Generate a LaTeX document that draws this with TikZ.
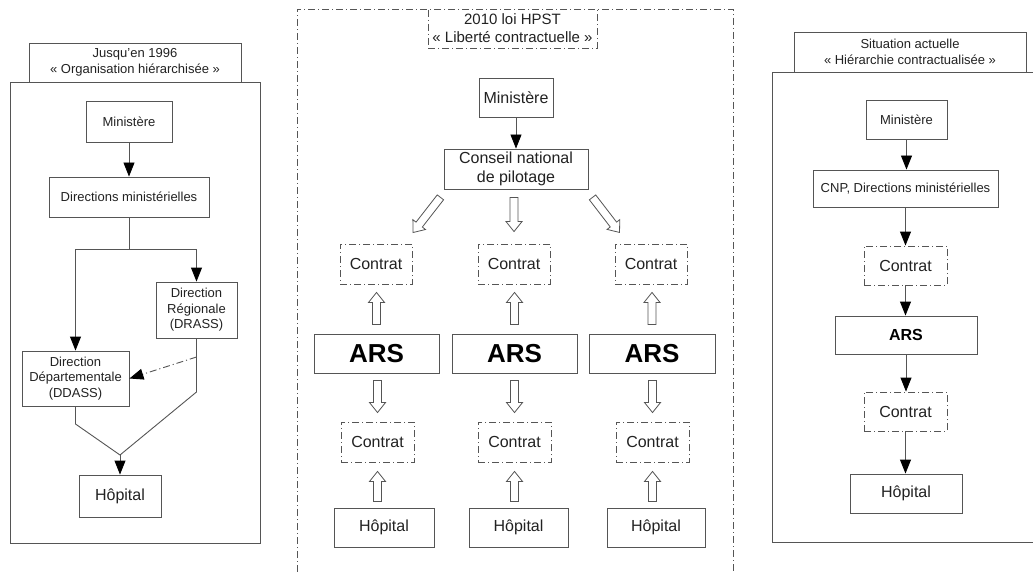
\documentclass[tikz,border=0pt]{standalone}
\usepackage{fontspec}
\setmainfont{Liberation Sans}
\usetikzlibrary{arrows.meta,calc}
\definecolor{bline}{HTML}{555555}
\definecolor{txt}{HTML}{222222}
\tikzset{
  bx/.style={draw=bline, line width=0.9pt, fill=white, inner sep=0pt, align=center, text=txt},
  dashdot/.style={dash pattern=on 7pt off 3pt on 1pt off 3pt},
  dashbox/.style={bx, dashdot},
  sz/.style 2 args={minimum width=#1, minimum height=#2},
  fA/.style={font=\fontsize{13}{15.5}\selectfont},
  fB/.style={font=\fontsize{16}{19}\selectfont},
  fT/.style={font=\fontsize{15}{18}\selectfont},
  fArs/.style={font=\fontsize{26}{30}\selectfont\bfseries, text=black},
  fArsR/.style={font=\fontsize{16}{19}\selectfont\bfseries, text=black},
  conn/.style={draw=bline, line width=0.9pt},
  arr/.style={conn, -{Triangle[length=14pt,width=11pt,color=black]}},
  hollow/.style 2 args={draw=bline, line width=0.8pt, fill=white, to path={
    let \p1=($(\tikztostart)!#1!(\tikztotarget)$),
        \p2=($(\tikztotarget)!#2!(\tikztostart)$),
        \p3=($(\p2)!10pt!(\p1)$) in
    ($(\p1)!4pt!90:(\p2)$) -- ($(\p3)!4pt!90:(\p2)$) -- ($(\p3)!8pt!90:(\p2)$)
    -- (\p2) -- ($(\p3)!8pt!-90:(\p2)$) -- ($(\p3)!4pt!-90:(\p2)$)
    -- ($(\p1)!4pt!-90:(\p2)$) -- cycle}}
}
\begin{document}
\begin{tikzpicture}[x=1pt, y=-1pt]
\useasboundingbox (0,0) rectangle (1033,572);
\fill[white] (0,0) rectangle (1033,572);

% ---------------- Left panel ----------------
\node[bx, sz={212pt}{39pt}, fA] (tL) at (135,62.5) {Jusqu'en 1996\\« Organisation hiérarchisée »};
\node[bx, sz={250pt}{461pt}] (fL) at (135,312.5) {};
\node[bx, sz={86pt}{41pt}, fA] (mL) at (129,121.5) {Ministère};
\node[bx, sz={160pt}{40pt}, fA] (dm) at (129,197) {Directions ministérielles};
\node[bx, sz={81pt}{56pt}, fA] (dr) at (196.5,310) {Direction\\Régionale\\(DRASS)};
\node[bx, sz={107pt}{55pt}, fA] (ddp) at (75.5,378.5) {Direction\\Départementale\\(DDASS)};
\node[bx, sz={82pt}{42pt}, fB] (hL) at (120,496) {Hôpital};
\coordinate (j) at (129,249);
\coordinate (rb) at (196.5,392);
\coordinate (lb) at (75.5,424);
\coordinate (mg) at (120,455);
\coordinate (ds) at (196.5,357);
\draw[arr] (mL) -- (dm);
\draw[conn] (dm.south) -- (j);
\draw[arr] (j) -| (dr.north);
\draw[arr] (j) -| (ddp.north);
\draw[conn] (dr.south) -- (rb) -- (mg);
\draw[conn] (ddp.south) -- (lb) -- (mg);
\draw[arr] (mg) -- (hL.north);
\draw[arr, dashdot] (ds) -- (ddp.east);

% ---------------- Middle panel ----------------
\draw[conn, dashdot] (297,572) -- (297,9) -- (733,9) -- (733,572);
\node[dashbox, sz={169pt}{39pt}, fT] (tM) at (512.5,28.5) {2010 loi HPST\\« Liberté contractuelle »};
\node[bx, sz={74pt}{39pt}, fB] (mM) at (516,97.5) {Ministère};
\node[bx, sz={144pt}{40pt}, fB] (cnp) at (516,169) {Conseil national\\de pilotage};
\draw[arr] (mM) -- (cnp);

\node[dashbox, sz={72pt}{40pt}, fB] (k1) at (376,264) {Contrat};
\node[dashbox, sz={72pt}{40pt}, fB] (k2) at (514,264) {Contrat};
\node[dashbox, sz={72pt}{40pt}, fB] (k3) at (651,264) {Contrat};

\node[bx, sz={125pt}{39pt}, fArs] (a1) at (376.5,353.5) {ARS};
\node[bx, sz={125pt}{39pt}, fArs] (a2) at (514.5,353.5) {ARS};
\node[bx, sz={126pt}{39pt}, fArs] (a3) at (652,353.5) {ARS};

\node[dashbox, sz={73pt}{40pt}, fB] (k4) at (377.5,442) {Contrat};
\node[dashbox, sz={73pt}{40pt}, fB] (k5) at (514.5,442) {Contrat};
\node[dashbox, sz={73pt}{40pt}, fB] (k6) at (652.5,442) {Contrat};

\node[bx, sz={100pt}{39pt}, fB] (h1) at (384,527.5) {Hôpital};
\node[bx, sz={99pt}{39pt}, fB] (h2) at (518.5,527.5) {Hôpital};
\node[bx, sz={98pt}{39pt}, fB] (h3) at (656,527.5) {Hôpital};

\draw[hollow={10pt}{14pt}] ([xshift=3pt]cnp.south west) to ([xshift=-8pt]k1.north east);
\draw[hollow={8pt}{12pt}] (cnp.south -| k2) to (k2.north);
\draw[hollow={10pt}{14pt}] ([xshift=-2pt]cnp.south east) to ([xshift=13.5pt]k3.north west);

\draw[hollow={9pt}{8pt}] (a1.north) to (a1.north |- k1.south);
\draw[hollow={9pt}{8pt}] (a2.north) to (a2.north |- k2.south);
\draw[hollow={9pt}{8pt}] (a3.north) to (a3.north |- k3.south);

\draw[hollow={7pt}{9pt}] (a1.south -| k4) to (k4.north);
\draw[hollow={7pt}{9pt}] (a2.south -| k5) to (k5.north);
\draw[hollow={7pt}{9pt}] (a3.south -| k6) to (k6.north);

\draw[hollow={6pt}{9pt}] (h1.north -| k4) to (k4.south);
\draw[hollow={6pt}{9pt}] (h2.north -| k5) to (k5.south);
\draw[hollow={6pt}{9pt}] (h3.north -| k6) to (k6.south);

% ---------------- Right panel ----------------
\node[bx, sz={232pt}{40pt}, fA] (tR) at (910,52) {Situation actuelle\\« Hiérarchie contractualisée »};
\draw[conn, fill=white] (1040,72) -- (772,72) -- (772,542) -- (1040,542);
\node[bx, sz={81pt}{39pt}, fA] (mR) at (906.5,119.5) {Ministère};
\node[bx, sz={185pt}{37pt}, fA] (cnpR) at (905.5,188.5) {CNP, Directions ministérielles};
\node[dashbox, sz={83pt}{39pt}, fB] (kR1) at (905.5,265.5) {Contrat};
\node[bx, sz={142pt}{38pt}, fArsR] (aR) at (906,335) {ARS};
\node[dashbox, sz={83pt}{39pt}, fB] (kR2) at (905.5,411.5) {Contrat};
\node[bx, sz={112pt}{39pt}, fB] (hR) at (906,493.5) {Hôpital};
\draw[arr] (mR.south) -- (mR.south |- cnpR.north);
\draw[arr] (cnpR.south) -- (cnpR.south |- kR1.north);
\draw[arr] (kR1.south) -- (kR1.south |- aR.north);
\draw[arr] (aR.south) -- (aR.south |- kR2.north);
\draw[arr] (kR2.south) -- (kR2.south |- hR.north);
\end{tikzpicture}
\end{document}
